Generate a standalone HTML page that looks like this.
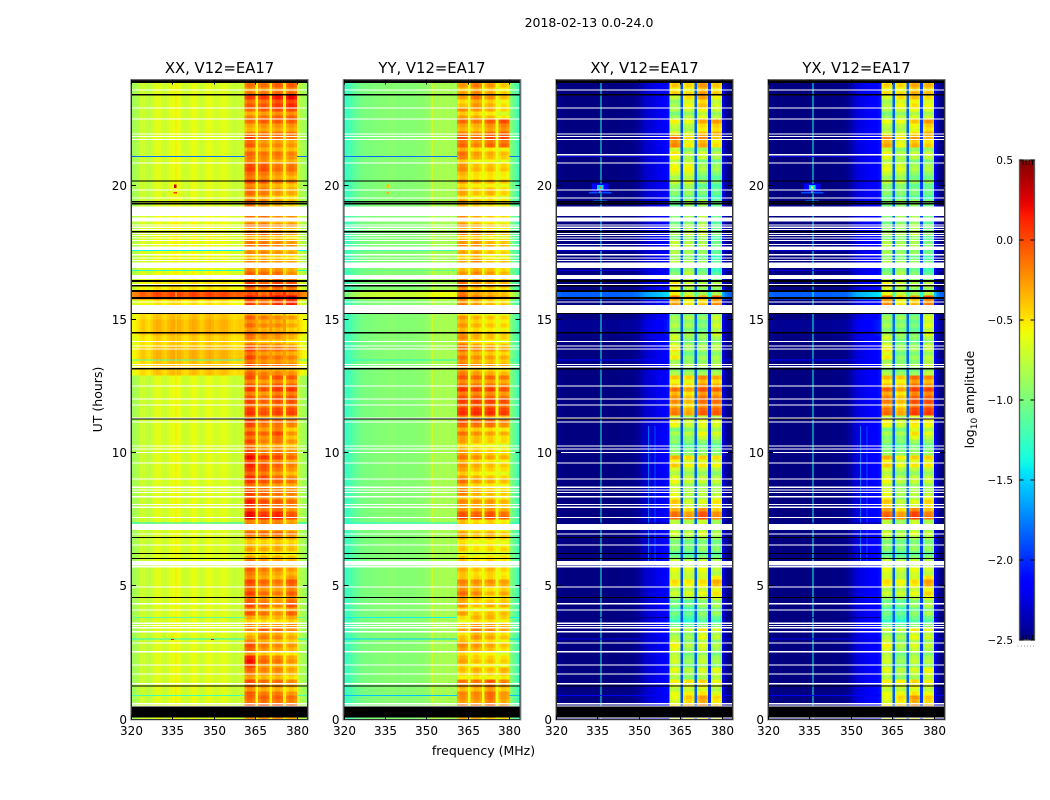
<!DOCTYPE html>
<html lang="en">
<head>
<meta charset="utf-8">
<title>2018-02-13 0.0-24.0</title>
<style>
html,body{margin:0;padding:0;background:#fff;}
#figure{display:block;width:1050px;height:800px;}
text{font-family:"DejaVu Sans","Liberation Sans",sans-serif;fill:#000;}
</style>
</head>
<body>
<svg id="figure" xmlns="http://www.w3.org/2000/svg" width="1050" height="800" viewBox="0 0 1050 800">
  <text x="589" y="27" font-size="12.5" text-anchor="middle">2018-02-13 0.0-24.0</text>
  <text x="483.5" y="755" font-size="12.5" text-anchor="middle">frequency (MHz)</text>
  <text transform="translate(102,399.5) rotate(-90)" font-size="12.5" text-anchor="middle">UT (hours)</text>
  <text transform="translate(974,399.5) rotate(-90)" font-size="12.5" text-anchor="middle">log<tspan font-size="9" dy="3">10</tspan><tspan dy="-3"> amplitude</tspan></text>
  <g id="panels"></g>
  <g id="colorbar"></g>
</svg>
<script>
// ---- chart data: log10 amplitude ----
const panelTitles = ["XX, V12=EA17", "YY, V12=EA17", "XY, V12=EA17", "YX, V12=EA17"];
const freqTicks = [320, 335, 350, 365, 380];
const hourTicks = [0, 5, 10, 15, 20];
const colorTicks = [-2.5, -2.0, -1.5, -1.0, -0.5, 0.0, 0.5];

// which sub-band each 1 MHz channel (320..383) belongs to; -1 = outside a sub-band
const channelSubband = [
 -1,-1,-1,-1,-1,-1,-1,-1,-1,-1, -1,-1,-1,-1,-1,-1,-1,-1,-1,-1,
 -1,-1,-1,-1,-1,-1,-1,-1,-1,-1, -1,-1,-1,-1,-1,-1,-1,-1,-1,-1,
 -1,0,0,0,0,-1,1,1,1,1, -1,2,2,2,2,-1,3,3,3,3, -1,-1,-1,-1];
const subbandShape = [-0.06, 0.02, 0.02, -0.05];
const bandBias = [-0.07, -0.06, -0.01, -0.01];

// out-of-band spectrum per channel (null inside sub-bands)
const xxSpectrum = [
 -.87,-.85,-.8,-.72,-.7,-.75,-.78,-.72,-.66,-.62,
 -.64,-.7,-.72,-.66,-.62,-.6,-.6,-.62,-.68,-.72,
 -.7,-.64,-.6,-.62,-.68,-.72,-.68,-.63,-.6,-.64,
 -.7,-.68,-.64,-.62,-.64,-.68,-.72,-.75,-.72,-.7,
 -.72,null,null,null,null,-.6,null,null,null,null,
 -.55,null,null,null,null,-.55,null,null,null,null,
 -.72,-.8,-.86,-.9];
const yySpectrum = [
 -1.25,-1.22,-1.18,-1.14,-1.1,-1.06,-1.03,-1.01,-1,-1,
 -.99,-.98,-.98,-.97,-.97,-.96,-.96,-.95,-.96,-.97,
 -.97,-.96,-.96,-.97,-.97,-.96,-.96,-.95,-.95,-.94,
 -.92,-.88,-.85,-.85,-.85,-.84,-.84,-.84,-.84,-.84,
 -.86,null,null,null,null,-.62,null,null,null,null,
 -.6,null,null,null,null,-.62,null,null,null,null,
 -.95,-1.05,-1.15,-1.25];
const xySpectrum = [
 -2.45,-2.47,-2.5,-2.5,-2.5,-2.5,-2.5,-2.5,-2.5,-2.5,
 -2.5,-2.5,-2.5,-2.5,-2.5,-2.5,-2.5,-2.5,-2.5,-2.5,
 -2.5,-2.5,-2.5,-2.48,-2.48,-2.48,-2.48,-2.48,-2.46,-2.44,
 -2.4,-2.35,-2.3,-2.28,-2.26,-2.24,-2.22,-2.2,-2.18,-2.15,
 -2.1,null,null,null,null,-1.9,null,null,null,null,
 -1.85,null,null,null,null,-2.0,null,null,null,null,
 -2.25,-2.42,-2.48,-2.5];
const yxSpectrum = [
 -2.47,-2.48,-2.5,-2.5,-2.5,-2.5,-2.5,-2.5,-2.5,-2.5,
 -2.5,-2.5,-2.5,-2.5,-2.5,-2.5,-2.5,-2.5,-2.5,-2.5,
 -2.5,-2.5,-2.5,-2.48,-2.48,-2.48,-2.48,-2.48,-2.46,-2.42,
 -2.36,-2.3,-2.26,-2.24,-2.22,-2.2,-2.18,-2.16,-2.14,-2.12,
 -2.08,null,null,null,null,-1.85,null,null,null,null,
 -1.85,null,null,null,null,-1.95,null,null,null,null,
 -2.2,-2.4,-2.47,-2.5];

// half-hour bins from 24 h down to 0 h: [off-band offset, sub-band 1, 2, 3, 4]
const xxBand = [
 [0,-.15,-.15,-.1,-.1],[0,0,0,.1,.15],[0,-.15,-.1,-.05,-.05],[0,-.2,-.15,-.15,-.15],
 [0,0,-.15,-.15,-.2],[0,-.1,-.15,-.15,-.2],[0,-.05,-.1,-.2,-.2],[0,-.05,-.1,-.2,-.25],
 [0,-.1,-.15,-.25,-.3],[0,-.1,-.2,-.3,-.4],[.05,-.1,-.1,-.2,-.2],[.05,-.15,-.15,-.2,-.3],
 [.05,-.15,-.15,-.2,-.25],[.05,-.2,-.2,-.25,-.3],[.05,-.05,-.1,-.1,-.2],[.15,0,-.1,0,-.05],
 [.15,.1,0,.15,.2],[.25,-.1,-.2,-.25,-.3],[.3,-.1,-.2,-.2,-.3],[.22,-.1,-.2,-.2,-.3],
 [.3,0,-.15,-.15,-.2],[.25,-.05,-.15,-.15,-.2],[0,-.05,-.15,-.05,-.1],[0,0,-.1,0,0],
 [0,0,-.1,-.05,-.05],[0,.05,-.1,-.1,-.15],[0,-.05,-.15,-.05,-.3],[0,0,-.2,-.15,-.25],
 [0,.1,-.05,-.1,-.2],[0,.1,0,-.1,-.2],[0,0,-.1,-.15,-.2],[0,.1,-.05,-.1,-.15],
 [0,.2,.05,.1,-.05],[0,-.1,-.1,-.1,-.2],[0,-.3,-.35,-.3,-.35],[0,-.3,-.35,-.35,-.4],
 [0,-.1,-.2,-.25,-.3],[0,-.05,-.15,-.2,-.1],[0,0,-.15,-.2,-.1],[0,-.05,-.15,-.25,-.1],
 [0,-.25,-.3,-.3,-.25],[0,-.3,-.15,-.2,-.3],[0,-.05,-.2,-.25,-.3],[0,.12,-.15,-.2,-.3],
 [0,-.1,-.2,-.2,-.3],[0,-.1,-.2,-.2,-.3],[0,-.05,-.05,-.05,-.1],[0,-.2,-.2,-.2,-.3]];
const yyBand = [
 [0,-.3,-.2,-.3,-.45],[0,-.35,-.2,-.3,-.45],[0,-.25,-.3,-.35,-.5],[0,-.2,-.25,-.15,-.1],
 [0,-.05,-.15,-.05,-.05],[0,-.15,-.3,-.35,-.4],[0,-.3,-.45,-.45,-.5],[0,-.3,-.4,-.4,-.45],
 [0,-.3,-.4,-.35,-.45],[0,-.3,-.4,-.45,-.5],[0,-.2,-.3,-.4,-.45],[0,-.25,-.25,-.4,-.45],
 [0,-.25,-.25,-.35,-.4],[0,-.3,-.2,-.4,-.4],[0,-.25,-.2,-.25,-.35],[0,-.15,-.3,-.35,-.4],
 [0,-.1,-.2,-.3,-.35],[0,-.3,-.4,-.45,-.5],[0,-.25,-.35,-.4,-.45],[0,-.15,-.3,-.35,-.4],
 [0,-.15,-.25,-.3,-.35],[0,-.15,-.25,-.3,-.35],[0,-.1,-.15,-.15,-.2],[0,0,-.05,-.05,-.1],
 [0,0,0,0,-.05],[0,-.05,-.1,-.1,-.2],[0,-.2,-.3,-.35,-.4],[0,-.3,-.4,-.45,-.5],
 [0,-.25,-.35,-.4,-.45],[0,-.25,-.35,-.4,-.45],[0,-.2,-.35,-.4,-.45],[0,-.25,-.3,-.3,-.4],
 [0,-.05,-.1,-.05,-.15],[0,-.3,-.4,-.35,-.45],[0,-.4,-.5,-.45,-.5],[0,-.45,-.55,-.5,-.5],
 [0,-.35,-.45,-.4,-.5],[0,-.25,-.3,-.3,-.35],[0,-.15,-.25,-.4,-.35],[0,-.3,-.45,-.4,-.4],
 [0,-.45,-.3,-.3,-.4],[0,-.4,-.25,-.3,-.4],[0,-.25,-.3,-.35,-.45],[0,-.35,-.45,-.45,-.5],
 [0,-.4,-.35,-.4,-.35],[0,-.25,-.25,-.15,-.3],[0,-.2,-.2,-.1,-.25],[0,-.3,-.3,-.35,-.45]];
const xyBand = [
 [0,-.5,-.55,-.35,-.5],[0,-.85,-.6,-.4,-.7],[0,-.9,-.8,-.65,-.8],[0,-.7,-.75,-.45,-.4],
 [0,-.2,-.55,-.3,-.5],[0,-.6,-.85,-.75,-.85],[0,-.7,-.7,-.95,-1],[0,-.8,-.75,-1,-1.1],
 [0,-1,-.95,-1.05,-1.15],[0,-1.1,-.9,-.9,-1.1],[0,-1,-.9,-.8,-1.1],[0,-.9,-.8,-.75,-1.05],
 [0,-.8,-.85,-.9,-1.1],[0,-.8,-.85,-.95,-1.15],[0,-1,-.8,-1,-1.2],[0,-.6,-.8,-.9,-.9],
 [0,-.25,-.5,-.4,-.2],[0,-.95,-.9,-1,-.8],[.05,-.85,-.9,-1,-.75],[0,-.7,-.9,-.9,-.85],
 [0,-.6,-1,-.95,-.9],[0,-.85,-.9,-.9,-.85],[0,-.5,-.55,-.3,-.4],[0,-.25,-.4,-.15,-.2],
 [0,-.3,-.45,-.2,-.2],[0,-.6,-.75,-.65,-.7],[0,-.95,-.9,-.7,-.8],[0,-1,-1.05,-1,-1.05],
 [0,-.5,-.65,-.6,-.65],[0,-.7,-.8,-.8,-.85],[0,-.7,-.85,-.85,-.85],[0,-.5,-.8,-.75,-.6],
 [0,-.2,-.35,-.1,-.3],[0,-.75,-.8,-.7,-.85],[0,-.95,-1,-.95,-1],[0,-1.05,-1.1,-1,-1.05],
 [0,-.7,-.75,-.7,-.85],[0,-.6,-.65,-.6,-.45],[0,-.8,-.75,-.7,-.6],[0,-1.1,-1.15,-1,-.95],
 [0,-1.15,-1.2,-1.05,-1.1],[0,-.85,-.9,-.65,-.8],[0,-.65,-.9,-.75,-.9],[0,-.8,-1,-.85,-.95],
 [0,-.7,-.85,-.75,-.7],[0,-.7,-.65,-.6,-.75],[0,-.65,-.45,-.3,-.5],[0,-.7,-.6,-.6,-.65]];
const yxBand = [
 [0,-.55,-.55,-.4,-.45],[0,-.8,-.6,-.5,-.6],[0,-.9,-.8,-.7,-.75],[0,-.75,-.75,-.55,-.4],
 [0,-.3,-.6,-.35,-.45],[0,-.65,-.85,-.8,-.8],[0,-.75,-.8,-.95,-.95],[0,-.85,-.85,-1,-1],
 [0,-1,-1,-1.05,-1.1],[0,-1.05,-.95,-.95,-1.05],[0,-1,-.9,-.85,-1.05],[0,-.9,-.85,-.8,-1],
 [0,-.85,-.9,-.9,-1.05],[0,-.85,-.9,-.95,-1.1],[0,-1,-.85,-1,-1.15],[0,-.65,-.8,-.9,-.85],
 [0,-.2,-.5,-.35,-.15],[0,-.95,-.95,-1.05,-.75],[.05,-.9,-.95,-1.05,-.7],[0,-.7,-.95,-.95,-.8],
 [0,-.6,-1,-.95,-.85],[0,-.85,-.95,-.95,-.8],[0,-.45,-.5,-.2,-.3],[0,-.2,-.4,-.1,-.1],
 [0,-.25,-.45,-.1,-.1],[0,-.6,-.75,-.55,-.6],[0,-.95,-.95,-.6,-.75],[0,-1,-1.05,-.95,-1],
 [0,-.5,-.7,-.6,-.6],[0,-.7,-.85,-.8,-.8],[0,-.7,-.9,-.85,-.85],[0,-.5,-.85,-.75,-.55],
 [0,-.15,-.35,-.05,-.25],[0,-.75,-.85,-.7,-.8],[0,-.95,-1,-.95,-.95],[0,-1.05,-1.1,-1,-1],
 [0,-.7,-.8,-.7,-.8],[0,-.6,-.7,-.6,-.4],[0,-.8,-.8,-.7,-.55],[0,-1.1,-1.15,-1,-.9],
 [0,-1.15,-1.2,-1.05,-1.05],[0,-.85,-.9,-.65,-.75],[0,-.65,-.9,-.75,-.85],[0,-.8,-1,-.85,-.9],
 [0,-.7,-.85,-.75,-.65],[0,-.7,-.7,-.6,-.7],[0,-.65,-.5,-.3,-.45],[0,-.7,-.65,-.6,-.6]];

// fine row-to-row striping of the band (160 rows of 0.15 h, top down)
const rowStripe = [
 .05,.1,-.04,.08,.12,-.06,.02,.1,-.1,.04,.14,-.02,-.08,.06,.1,-.05,
 .02,-.1,.08,.03,-.06,.1,.14,.02,-.04,.12,-.08,.04,.06,-.1,.08,.02,
 -.05,.1,.04,-.08,.06,-.02,.1,-.12,.05,.08,-.04,.02,-.1,.06,.1,-.06,
 .04,-.02,.08,.12,-.04,.06,.1,-.08,.02,.05,-.1,.1,-.03,.06,-.06,.08,
 .02,-.12,.06,.1,-.05,.08,-.02,.12,-.08,.04,.1,-.06,.06,.12,-.1,.02,
 .08,-.04,.1,.14,-.1,.06,.02,-.06,.12,-.02,.08,-.08,.04,.1,.16,-.05,
 .08,.02,-.1,.06,.12,-.04,.02,.08,-.06,.1,.04,-.12,.06,.1,-.02,.05,
 -.08,.08,.12,-.04,.02,.1,-.1,.06,.04,-.06,.1,.02,-.08,.12,.06,-.02,
 .1,-.05,.04,.12,-.08,.08,.02,-.1,.1,.14,-.04,.06,-.06,.1,.02,-.12,
 .06,.12,-.04,.08,.02,-.1,.14,.06,-.06,.1,.04,-.02,.12,-.08,.06,.02];

// flagged-out (blank) intervals in hours
const whiteFlags = [
 [23.63,.04],[22.95,.04],[22.54,.04],[21.98,.04],[21.88,.04],[21.77,.04],[20.89,.04],[19.88,.04],[19.58,.04],
 [19.23,.35],[18.82,.15],[18.57,.04],[18.48,.04],[18.39,.04],[18.25,.04],[18.17,.04],[18.08,.04],[17.98,.04],[17.83,.04],
 [17.73,.13],[17.45,.04],[17.33,.04],[17.23,.04],[17.13,.2],[16.66,.15],[16.33,.04],[15.68,.04],[15.54,.04],[15.5,.27],
 [14.19,.04],[14.03,.04],[13.92,.04],[13.33,.04],[13.25,.04],[12.53,.04],[12.04,.04],[11.82,.04],[11.33,.04],[11.18,.04],
 [10.27,.04],[10.17,.04],[10.03,.04],[9.64,.04],[9.04,.04],[8.73,.04],[8.63,.04],[8.53,.04],[8.38,.06],[8.08,.04],[7.98,.04],
 [7.6,.04],[7.34,.23],[6.98,.04],[6.57,.04],[5.95,.17],[5.75,.04],[4.99,.04],[4.36,.04],[4.13,.04],[3.63,.04],[3.54,.04],
 [3.46,.04],[3.31,.04],[2.89,.04],[2.56,.04],[2.07,.04],[1.73,.04],[1.36,.04],[.61,.04],[.53,.04]];
const crossWhiteFlags = [[21.2,.04],[.08,.04]];
const blackFlags = [
 [24,.13],[23.45,.04],[20.22,.05],[19.44,.05],[19.36,.05],[18.31,.04],[16.49,.08],[16.29,.05],[16.11,.07],[15.85,.08],
 [15.25,.05],[14.54,.06],[13.19,.07],[11.29,.05],[6.84,.04],[6.24,.04],[6.06,.04],[4.59,.04],[1.27,.04],[.48,.4]];

// thin rows of low amplitude: [hour, xx, yy, xy, yx]
const lowRows = [
 [21.13,-1.8,-1.8,-2.25,-2.25],[17.6,-1.4,-1.2,-2.3,-2.3],[16.85,-1.3,-1.1,-2.25,-2.25],[13.5,-1.2,-1.3,-2.15,-2.15],
 [7.38,-1.4,-1.35,-2.5,-2.5],[3.84,-1.1,-1.4,-2.5,-2.5],[3.03,-1.35,-1.5,-2.25,-2.25],[.91,-1.2,-1.55,-2.2,-2.2]];
// RFI burst rows: [from hour, to hour, xx, yy, xy, yx]
const burstRows = [[16.1,15.8,.5,.25,.65,.65]];
// narrow spectral lines per panel: [MHz, value, from hour, to hour]
const xxLines = [[336,-.5,0,24]];
const yyLines = [[351.9,-.55,0,24]];
const xyLines = [[336,-1.35,0,24],[353.2,-1.8,5.8,11],[355.6,-1.9,5.8,11]];
const yxLines = [[336,-1.35,0,24],[353.2,-1.8,5.8,11],[355.6,-1.9,5.8,11]];
// compact sources: [MHz, hour, value, width MHz, height h]
const xxSpots = [[336,20,.3,1,.14],[336,19.75,.05,1.4,.06],[335,3,.2,1,.05],[349.5,3,.2,1,.05]];
const yySpots = [[336,20,-.4,.8,.14],[336,19.75,-.3,.8,.05]];
const xySpots = [[336,19.95,-2.15,6,.3],[336,19.75,-1.9,8,.05],[336,19.44,-1.7,5,.05],[336,19.95,-1.5,2.2,.2],[336,19.95,-.2,1,.08],[336,19.78,-.4,1,.05]];
const yxSpots = [[336,19.95,-2.15,6,.3],[336,19.75,-1.9,8,.05],[336,19.44,-1.7,5,.05],[336,19.95,-1.5,2.2,.2],[336,19.95,-.6,1,.08],[336,19.78,-.6,1,.05]];

const panelSpectra = [xxSpectrum, yySpectrum, xySpectrum, yxSpectrum];
const panelBands = [xxBand, yyBand, xyBand, yxBand];
const panelLines = [xxLines, yyLines, xyLines, yxLines];
const panelSpots = [xxSpots, yySpots, xySpots, yxSpots];

// ---- layout ----
const panelLefts = [131, 343.5, 556, 768];
const panelWidth = 177, plotTop = 79.5, plotBottom = 719.5;
const NS = "http://www.w3.org/2000/svg";
const yScale = h => plotBottom - (h / 24) * (plotBottom - plotTop);
const xScale = (x0, f) => x0 + (f - 320) / 64 * panelWidth;
const ROW_H = 0.15, ROWS = 160, CHANS = 64;

function jet(v) {
  const t = Math.max(0, Math.min(1, (v + 2.5) / 3));
  const seg = (pts) => {
    for (let i = 1; i < pts.length; i++) {
      if (t <= pts[i][0]) {
        const a = pts[i-1], b = pts[i];
        return a[1] + (b[1]-a[1]) * (t-a[0]) / (b[0]-a[0]);
      }
    }
    return pts[pts.length-1][1];
  };
  const r = seg([[0,0],[.35,0],[.66,1],[.89,1],[1,.5]]);
  const g = seg([[0,0],[.125,0],[.375,1],[.64,1],[.91,0],[1,0]]);
  const b = seg([[0,.5],[.11,1],[.34,1],[.65,0],[1,0]]);
  return "rgb(" + Math.round(r*255) + "," + Math.round(g*255) + "," + Math.round(b*255) + ")";
}
function mk(tag, attrs) {
  const e = document.createElementNS(NS, tag);
  for (const k in attrs) e.setAttribute(k, attrs[k]);
  return e;
}
function cellValue(p, r, c) {
  const hourC = 24 - (r + .5) * ROW_H;
  const bin = panelBands[p][Math.min(47, Math.floor(r * ROW_H / .5))];
  const sb = channelSubband[c];
  let extra = 0;
  burstRows.forEach(b => { if (hourC <= b[0] && hourC >= b[1]) extra = b[2 + p]; });
  if (sb >= 0) {
    const posInSub = c - channelSubband.indexOf(sb);
    return bin[1 + sb] + bandBias[p] + subbandShape[posInSub] + rowStripe[r] * 1.1;
  }
  return panelSpectra[p][c] + bin[0] + extra;
}

const panelsG = document.getElementById("panels");
panelTitles.forEach((title, p) => {
  const x0 = panelLefts[p];
  const g = mk("g", {});
  
  
  const cells = mk("g", {"shape-rendering": "crispEdges"});
  
  

  for (let r = 0; r < ROWS; r++) {
    const yT = yScale(24 - r * ROW_H), yB = yScale(24 - (r + 1) * ROW_H);
    for (let c = 0; c < CHANS; c++) {
      const xL = xScale(x0, 320 + c), xR = xScale(x0, 321 + c);
      const cell = mk("rect", {x: xL.toFixed(2), y: yT.toFixed(2), width: (xR - xL + .4).toFixed(2), height: (yB - yT + .4).toFixed(2), fill: jet(cellValue(p, r, c))});
      
      
      cells.appendChild(cell);
    }
  }
  g.appendChild(cells);

  const overlay = mk("g", {"shape-rendering": "crispEdges"});
  
  

  panelLines[p].forEach(l => {
    const line = mk("rect", {x: xScale(x0, l[0]).toFixed(1), y: yScale(l[3]).toFixed(1), width: 1, height: (yScale(l[2]) - yScale(l[3])).toFixed(1), fill: jet(l[1])});
    
    
    overlay.appendChild(line);
  });
  lowRows.forEach(l => {
    [[320, 361], [380, 384]].forEach(span => {
      const low = mk("rect", {x: xScale(x0, span[0]).toFixed(1), y: yScale(l[0]).toFixed(1), width: (xScale(x0, span[1]) - xScale(x0, span[0])).toFixed(1), height: 1, fill: jet(l[1 + p])});
      
      
      overlay.appendChild(low);
    });
  });
  panelSpots[p].forEach(s => {
    const spot = mk("rect", {x: xScale(x0, s[0] - s[3] / 2).toFixed(1), y: yScale(s[1] + s[4] / 2).toFixed(1), width: (s[3] * panelWidth / 64).toFixed(1), height: (s[4] * 640 / 24).toFixed(1), fill: jet(s[2])});
    
    
    overlay.appendChild(spot);
  });
  const white = p >= 2 ? whiteFlags.concat(crossWhiteFlags) : whiteFlags;
  white.forEach(f => {
    const flag = mk("rect", {x: x0 + 1, y: yScale(f[0]).toFixed(1), width: panelWidth - 2, height: Math.max(1, f[1] * 640 / 24).toFixed(1), fill: "#fff"});
    
    
    overlay.appendChild(flag);
  });
  blackFlags.forEach(f => {
    const flag = mk("rect", {x: x0, y: yScale(f[0]).toFixed(1), width: panelWidth, height: Math.max(1, f[1] * 640 / 24).toFixed(1), fill: "#000"});
    
    
    overlay.appendChild(flag);
  });
  g.appendChild(overlay);

  // frame
  const frameOuter = mk("rect", {x: x0 - .5, y: plotTop, width: panelWidth + 1, height: plotBottom - plotTop + .5, fill: "none", stroke: "#aaa", "stroke-width": 1});
  
  
  g.appendChild(frameOuter);
  const frame = mk("rect", {x: x0 + .5, y: plotTop + .5, width: panelWidth - 1, height: plotBottom - plotTop - .5, fill: "none", stroke: "#333", "stroke-width": 1});
  
  
  g.appendChild(frame);

  // x ticks and labels
  freqTicks.forEach(f => {
    const x = Math.round(xScale(x0, f)) + .5;
    [[plotBottom - 4, plotBottom], [plotTop, plotTop + 5]].forEach(seg => {
      const t = mk("line", {x1: x, x2: x, y1: seg[0], y2: seg[1], stroke: "#000", "stroke-width": 1});
      
      
      g.appendChild(t);
    });
    const lab = mk("text", {x: x, y: 735, "font-size": 12, "text-anchor": "middle"});
    
    
    lab.textContent = f;
    g.appendChild(lab);
  });
  // y ticks and labels
  hourTicks.forEach(h => {
    const y = Math.round(yScale(h)) - .5;
    if (h > 0) {
      [[x0, x0 + 5], [x0 + panelWidth - 5, x0 + panelWidth]].forEach(seg => {
        const t = mk("line", {x1: seg[0], x2: seg[1], y1: y, y2: y, stroke: "#000", "stroke-width": 1});
        
        
        g.appendChild(t);
      });
    }
    const lab = mk("text", {x: x0 - 4, y: y + 4.5, "font-size": 12, "text-anchor": "end"});
    
    
    lab.textContent = h;
    g.appendChild(lab);
  });
  const ttl = mk("text", {x: x0 + panelWidth / 2, y: 73, "font-size": 14.8, "text-anchor": "middle"});
  
  
  ttl.textContent = title;
  g.appendChild(ttl);
  panelsG.appendChild(g);
});

// ---- colorbar ----
const cb = document.getElementById("colorbar");
const cbX = 1019.5, cbW = 15, cbTop = 160, cbBottom = 640;
const cbScale = v => cbBottom - (v + 2.5) / 3 * (cbBottom - cbTop);
const defs = mk("defs", {});
const grad = mk("linearGradient", {id: "jetGradient", x1: 0, y1: 1, x2: 0, y2: 0});
for (let i = 0; i <= 60; i++) {
  grad.appendChild(mk("stop", {offset: (i / 60).toFixed(3), "stop-color": jet(-2.5 + 3 * i / 60)}));
}
defs.appendChild(grad);
cb.appendChild(defs);
const cbRect = mk("rect", {x: cbX, y: cbTop, width: cbW, height: cbBottom - cbTop, fill: "url(#jetGradient)"});


cb.appendChild(cbRect);
const cbFrame = mk("rect", {x: cbX, y: cbTop, width: cbW, height: cbBottom - cbTop, fill: "none", stroke: "#555", "stroke-width": 1.3});


cb.appendChild(cbFrame);
[1023, 1026, 1029.5, 1032.5].forEach(x => {
  [[cbTop, cbTop + 5], [cbBottom - 5, cbBottom]].forEach(seg => {
    const t = mk("line", {x1: x, x2: x, y1: seg[0], y2: seg[1], stroke: "#000", "stroke-width": .8});
    
    
    cb.appendChild(t);
  });
});
[1017.5, 1021, 1024, 1027, 1030, 1033].forEach(x => {
  const dot = mk("rect", {x: x, y: 645.5, width: 1, height: 1, fill: "#999"});
  
  
  cb.appendChild(dot);
});
colorTicks.forEach(v => {
  const y = cbScale(v);
  [[cbX, cbX + 4], [cbX + cbW - 4, cbX + cbW]].forEach(seg => {
    const t = mk("line", {x1: seg[0], x2: seg[1], y1: y, y2: y, stroke: "#000", "stroke-width": 1});
    
    
    cb.appendChild(t);
  });
  const lab = mk("text", {x: 1013, y: y + 4, "font-size": 10.5, "text-anchor": "end"});
  
  
  lab.textContent = (v < 0 ? "\u2212" : "") + Math.abs(v).toFixed(1);
  cb.appendChild(lab);
});
</script>
</body>
</html>
